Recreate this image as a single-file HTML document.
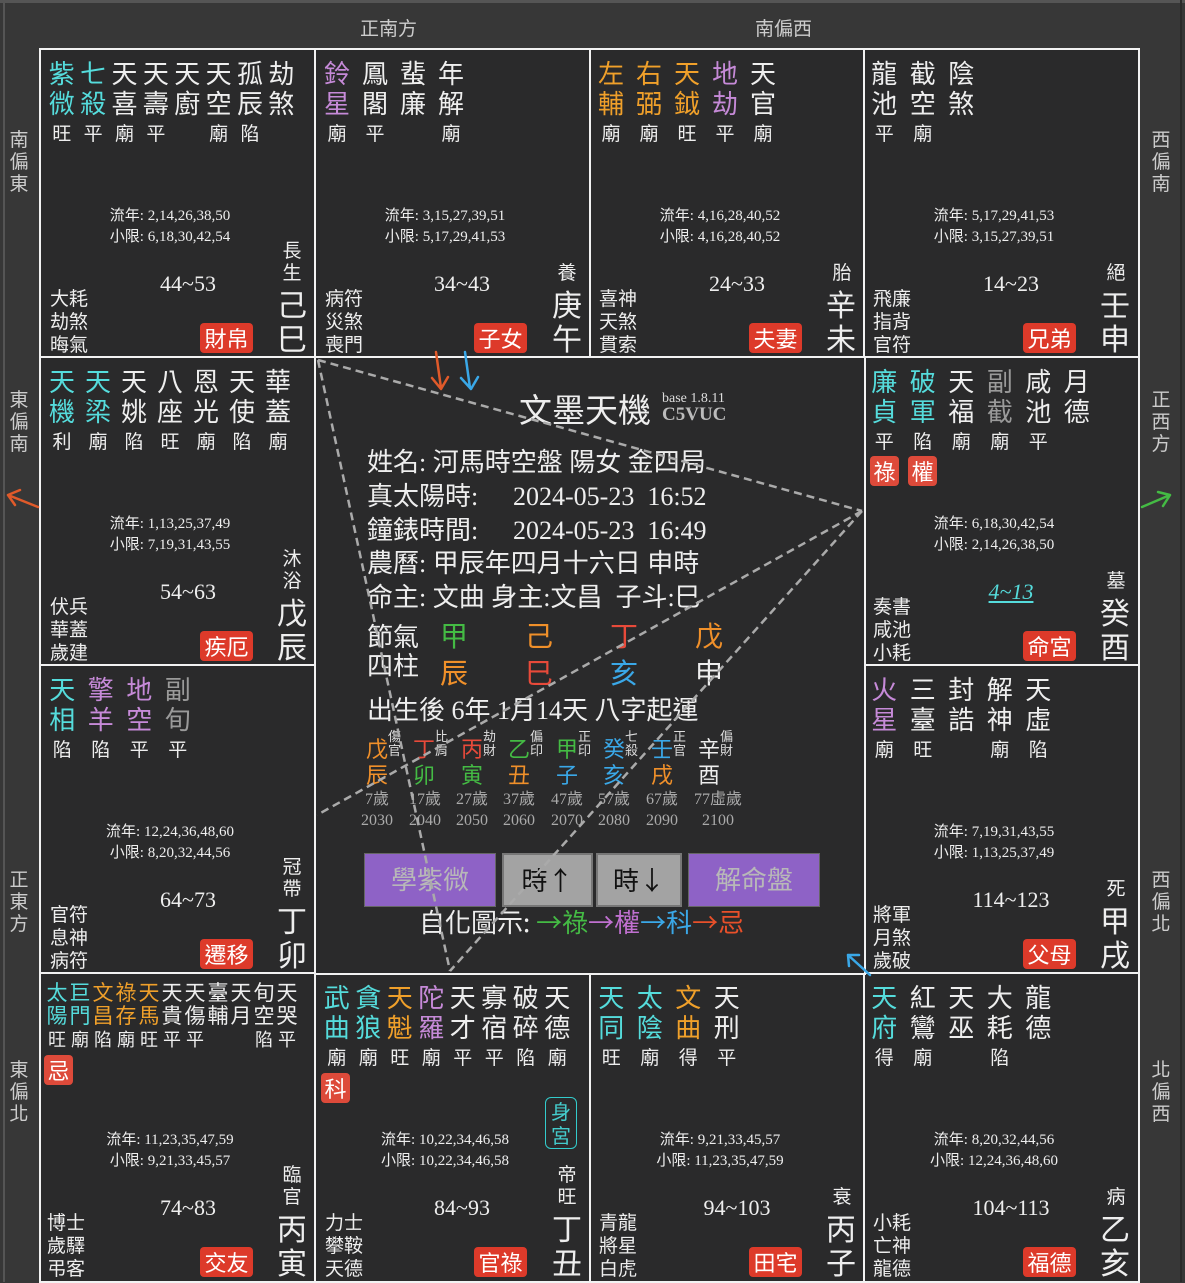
<!DOCTYPE html>
<html><head><meta charset="utf-8">
<style>
*{margin:0;padding:0;box-sizing:border-box}
body{width:1185px;height:1282px;background:#373737;position:relative;overflow:hidden;font-family:"Liberation Serif","Noto Sans CJK TC",sans-serif;color:#eee}
.a{position:absolute;white-space:nowrap}
.cell{position:absolute;background:#2a2a2b;border:2px solid #f2f2f2}
.st{position:absolute;display:flex;font-family:"Noto Sans CJK TC",sans-serif}
.st i{font-style:normal;display:block;text-align:center;font-size:26px;line-height:30px;color:#eee}
.st i b{display:block;font-weight:normal;font-size:19px;line-height:29px;color:#eee}
.sm i{font-size:21px;line-height:23px}
.sm i b{font-size:18px;line-height:25px}
.c{color:#55dcdc!important}.o{color:#f0a02a!important}.p{color:#c68ad8!important}.g{color:#9a9a9a!important}
.ly{position:absolute;width:200px;text-align:center;font-size:15px;line-height:21px;color:#eee}
.dec{position:absolute;width:120px;text-align:center;font-size:22px;line-height:26px}
.gods{position:absolute;font-size:19px;line-height:23px;font-family:"Noto Sans CJK TC",sans-serif}
.bd{position:absolute;width:53px;height:30px;background:#dd3a2a;border-radius:4px;text-align:center;font-size:22px;line-height:30px;font-family:"Noto Sans CJK TC",sans-serif;color:#fff}
.bs{position:absolute;width:29px;height:30px;background:#dd4a3a;border-radius:4px;text-align:center;font-size:22px;line-height:30px;font-family:"Noto Sans CJK TC",sans-serif;color:#fff}
.cs{position:absolute;width:30px;text-align:center;font-size:19px;line-height:22px;font-family:"Noto Sans CJK TC",sans-serif}
.gz{position:absolute;width:40px;text-align:center;font-size:30px;line-height:34px;font-family:"Noto Sans CJK TC",sans-serif}
.dir{position:absolute;width:24px;text-align:center;font-size:19px;line-height:22px;color:#ccc;font-family:"Noto Sans CJK TC",sans-serif}
.ln{position:absolute;left:367px;font-size:26px;line-height:34px;white-space:nowrap}
.col{position:absolute;width:47px;text-align:left}
.col .s{font-size:22px;line-height:26px;font-family:"Noto Sans CJK TC",sans-serif;display:inline-block;vertical-align:top}
.col .t{font-size:13px;line-height:14px;display:inline-block;vertical-align:top;color:#ddd;font-family:"Noto Sans CJK TC",sans-serif;margin-top:-6px}
.col .b{font-size:22px;line-height:26px;font-family:"Noto Sans CJK TC",sans-serif;display:block}
.yr{position:absolute;font-size:16px;line-height:21px;color:#aaa;width:60px;text-align:center}
.btn{position:absolute;top:853px;height:54px;text-align:center;font-size:26px;line-height:50px;font-family:"Noto Sans CJK TC",sans-serif}
.gr{color:#44bb44}.or{color:#f0902a}.rd{color:#e84a3a}.bl{color:#3aa8e8}
</style></head><body>
<div class="a" style="left:0;top:0;width:1185px;height:3px;background:#555"></div>
<div class="a" style="left:3px;top:0;width:2px;height:1282px;background:#555"></div>
<div class="a" style="left:1180px;top:0;width:2px;height:1282px;background:#2a2a2a"></div>

<div class="a" style="left:360px;top:14px;font-size:19px;color:#ccc;font-family:'Noto Sans CJK TC',sans-serif">正南方</div>
<div class="a" style="left:755px;top:14px;font-size:19px;color:#ccc;font-family:'Noto Sans CJK TC',sans-serif">南偏西</div>
<div class="dir" style="left:7px;top:128px">南<br>偏<br>東</div>
<div class="dir" style="left:7px;top:388px">東<br>偏<br>南</div>
<div class="dir" style="left:7px;top:868px">正<br>東<br>方</div>
<div class="dir" style="left:7px;top:1058px">東<br>偏<br>北</div>
<div class="dir" style="left:1149px;top:128px">西<br>偏<br>南</div>
<div class="dir" style="left:1149px;top:388px">正<br>西<br>方</div>
<div class="dir" style="left:1149px;top:868px">西<br>偏<br>北</div>
<div class="dir" style="left:1149px;top:1058px">北<br>偏<br>西</div>

<!-- cells -->
<div class="cell" style="left:39px;top:48px;width:278px;height:311px"></div>
<div class="cell" style="left:314px;top:48px;width:278px;height:311px"></div>
<div class="cell" style="left:589px;top:48px;width:277px;height:311px"></div>
<div class="cell" style="left:863px;top:48px;width:277px;height:311px"></div>
<div class="cell" style="left:39px;top:356px;width:278px;height:311px"></div>
<div class="cell" style="left:863px;top:356px;width:277px;height:311px"></div>
<div class="cell" style="left:39px;top:664px;width:278px;height:311px"></div>
<div class="cell" style="left:863px;top:664px;width:277px;height:311px"></div>
<div class="cell" style="left:39px;top:972px;width:278px;height:311px"></div>
<div class="cell" style="left:314px;top:972px;width:278px;height:311px"></div>
<div class="cell" style="left:589px;top:972px;width:277px;height:311px"></div>
<div class="cell" style="left:863px;top:972px;width:277px;height:311px"></div>
<div class="cell" style="left:314px;top:356px;width:552px;height:619px"></div>

<!-- Row 0 -->
<div class="st" style="left:46px;top:58px"><i class="c" style="width:31.4px">紫<br>微<b>旺</b></i><i class="c" style="width:31.4px">七<br>殺<b>平</b></i><i style="width:31.4px">天<br>喜<b>廟</b></i><i style="width:31.4px">天<br>壽<b>平</b></i><i style="width:31.4px">天<br>廚<b>&nbsp;</b></i><i style="width:31.4px">天<br>空<b>廟</b></i><i style="width:31.4px">孤<br>辰<b>陷</b></i><i style="width:31.4px">劫<br>煞<b>&nbsp;</b></i></div>
<div class="ly" style="left:70px;top:206px">流年: 2,14,26,38,50<br>小限: 6,18,30,42,54</div>
<div class="dec" style="left:128px;top:271px">44~53</div>
<div class="gods" style="left:50px;top:286px">大耗<br>劫煞<br>晦氣</div>
<div class="bd" style="left:200px;top:323px">財帛</div>
<div class="cs" style="left:277px;top:239px">長<br>生</div>
<div class="gz" style="left:272px;top:286px">己<br>巳</div>

<div class="st" style="left:318px;top:58px"><i class="p" style="width:38px">鈴<br>星<b>廟</b></i><i style="width:38px">鳳<br>閣<b>平</b></i><i style="width:38px">蜚<br>廉<b>&nbsp;</b></i><i style="width:38px">年<br>解<b>廟</b></i></div>
<div class="ly" style="left:345px;top:206px">流年: 3,15,27,39,51<br>小限: 5,17,29,41,53</div>
<div class="dec" style="left:402px;top:271px">34~43</div>
<div class="gods" style="left:325px;top:286px">病符<br>災煞<br>喪門</div>
<div class="bd" style="left:474px;top:323px">子女</div>
<div class="cs" style="left:552px;top:261px">養</div>
<div class="gz" style="left:547px;top:286px">庚<br>午</div>

<div class="st" style="left:592px;top:58px"><i class="o" style="width:38px">左<br>輔<b>廟</b></i><i class="o" style="width:38px">右<br>弼<b>廟</b></i><i class="o" style="width:38px">天<br>鉞<b>旺</b></i><i class="p" style="width:38px">地<br>劫<b>平</b></i><i style="width:38px">天<br>官<b>廟</b></i></div>
<div class="ly" style="left:620px;top:206px">流年: 4,16,28,40,52<br>小限: 4,16,28,40,52</div>
<div class="dec" style="left:677px;top:271px">24~33</div>
<div class="gods" style="left:599px;top:286px">喜神<br>天煞<br>貫索</div>
<div class="bd" style="left:749px;top:323px">夫妻</div>
<div class="cs" style="left:827px;top:261px">胎</div>
<div class="gz" style="left:821px;top:286px">辛<br>未</div>

<div class="st" style="left:865px;top:58px"><i style="width:38.5px">龍<br>池<b>平</b></i><i style="width:38.5px">截<br>空<b>廟</b></i><i style="width:38.5px">陰<br>煞<b>&nbsp;</b></i></div>
<div class="ly" style="left:894px;top:206px">流年: 5,17,29,41,53<br>小限: 3,15,27,39,51</div>
<div class="dec" style="left:951px;top:271px">14~23</div>
<div class="gods" style="left:873px;top:286px">飛廉<br>指背<br>官符</div>
<div class="bd" style="left:1023px;top:323px">兄弟</div>
<div class="cs" style="left:1101px;top:261px">絕</div>
<div class="gz" style="left:1095px;top:286px">壬<br>申</div>

<!-- Row 1 -->
<div class="st" style="left:44px;top:366px"><i class="c" style="width:36px">天<br>機<b>利</b></i><i class="c" style="width:36px">天<br>梁<b>廟</b></i><i style="width:36px">天<br>姚<b>陷</b></i><i style="width:36px">八<br>座<b>旺</b></i><i style="width:36px">恩<br>光<b>廟</b></i><i style="width:36px">天<br>使<b>陷</b></i><i style="width:36px">華<br>蓋<b>廟</b></i></div>
<div class="ly" style="left:70px;top:514px">流年: 1,13,25,37,49<br>小限: 7,19,31,43,55</div>
<div class="dec" style="left:128px;top:579px">54~63</div>
<div class="gods" style="left:50px;top:594px">伏兵<br>華蓋<br>歲建</div>
<div class="bd" style="left:200px;top:631px">疾厄</div>
<div class="cs" style="left:277px;top:547px">沐<br>浴</div>
<div class="gz" style="left:272px;top:594px">戊<br>辰</div>

<div class="st" style="left:865px;top:366px"><i class="c" style="width:38.5px">廉<br>貞<b>平</b></i><i class="c" style="width:38.5px">破<br>軍<b>陷</b></i><i style="width:38.5px">天<br>福<b>廟</b></i><i class="g" style="width:38.5px">副<br>截<b>廟</b></i><i style="width:38.5px">咸<br>池<b>平</b></i><i style="width:38.5px">月<br>德<b>&nbsp;</b></i></div>
<div class="bs" style="left:870px;top:456px">祿</div>
<div class="bs" style="left:908px;top:456px">權</div>
<div class="ly" style="left:894px;top:514px">流年: 6,18,30,42,54<br>小限: 2,14,26,38,50</div>
<div class="dec" style="left:951px;top:579px;color:#55dcdc;font-style:italic"><span style="text-decoration:underline">4~13</span></div>
<div class="gods" style="left:873px;top:594px">奏書<br>咸池<br>小耗</div>
<div class="bd" style="left:1023px;top:631px">命宮</div>
<div class="cs" style="left:1101px;top:569px">墓</div>
<div class="gz" style="left:1095px;top:594px">癸<br>酉</div>

<!-- Row 2 -->
<div class="st" style="left:43px;top:674px"><i class="c" style="width:38.5px">天<br>相<b>陷</b></i><i class="p" style="width:38.5px">擎<br>羊<b>陷</b></i><i class="p" style="width:38.5px">地<br>空<b>平</b></i><i class="g" style="width:38.5px">副<br>旬<b>平</b></i></div>
<div class="ly" style="left:70px;top:822px">流年: 12,24,36,48,60<br>小限: 8,20,32,44,56</div>
<div class="dec" style="left:128px;top:887px">64~73</div>
<div class="gods" style="left:50px;top:902px">官符<br>息神<br>病符</div>
<div class="bd" style="left:200px;top:939px">遷移</div>
<div class="cs" style="left:277px;top:855px">冠<br>帶</div>
<div class="gz" style="left:272px;top:902px">丁<br>卯</div>

<div class="st" style="left:865px;top:674px"><i class="p" style="width:38.5px">火<br>星<b>廟</b></i><i style="width:38.5px">三<br>臺<b>旺</b></i><i style="width:38.5px">封<br>誥<b>&nbsp;</b></i><i style="width:38.5px">解<br>神<b>廟</b></i><i style="width:38.5px">天<br>虛<b>陷</b></i></div>
<div class="ly" style="left:894px;top:822px">流年: 7,19,31,43,55<br>小限: 1,13,25,37,49</div>
<div class="dec" style="left:951px;top:887px">114~123</div>
<div class="gods" style="left:873px;top:902px">將軍<br>月煞<br>歲破</div>
<div class="bd" style="left:1023px;top:939px">父母</div>
<div class="cs" style="left:1101px;top:877px">死</div>
<div class="gz" style="left:1095px;top:902px">甲<br>戌</div>

<!-- Row 3 -->
<div class="st sm" style="left:45.5px;top:981px"><i class="c" style="width:23px">太<br>陽<b>旺</b></i><i class="c" style="width:23px">巨<br>門<b>廟</b></i><i class="o" style="width:23px">文<br>昌<b>陷</b></i><i class="o" style="width:23px">祿<br>存<b>廟</b></i><i class="o" style="width:23px">天<br>馬<b>旺</b></i><i style="width:23px">天<br>貴<b>平</b></i><i style="width:23px">天<br>傷<b>平</b></i><i style="width:23px">臺<br>輔<b>&nbsp;</b></i><i style="width:23px">天<br>月<b>&nbsp;</b></i><i style="width:23px">旬<br>空<b>陷</b></i><i style="width:23px">天<br>哭<b>平</b></i></div>
<div class="bs" style="left:44px;top:1055px">忌</div>
<div class="ly" style="left:70px;top:1130px">流年: 11,23,35,47,59<br>小限: 9,21,33,45,57</div>
<div class="dec" style="left:128px;top:1195px">74~83</div>
<div class="gods" style="left:47px;top:1210px">博士<br>歲驛<br>弔客</div>
<div class="bd" style="left:200px;top:1247px">交友</div>
<div class="cs" style="left:277px;top:1163px">臨<br>官</div>
<div class="gz" style="left:272px;top:1210px">丙<br>寅</div>

<div class="st" style="left:321px;top:982px"><i class="c" style="width:31.5px">武<br>曲<b>廟</b></i><i class="c" style="width:31.5px">貪<br>狼<b>廟</b></i><i class="o" style="width:31.5px">天<br>魁<b>旺</b></i><i class="p" style="width:31.5px">陀<br>羅<b>廟</b></i><i style="width:31.5px">天<br>才<b>平</b></i><i style="width:31.5px">寡<br>宿<b>平</b></i><i style="width:31.5px">破<br>碎<b>陷</b></i><i style="width:31.5px">天<br>德<b>廟</b></i></div>
<div class="bs" style="left:321px;top:1073px">科</div>
<div class="a" style="left:545px;top:1097px;width:32px;height:52px;border:1px solid #3cc;border-radius:6px;color:#4cc;font-size:20px;line-height:24px;text-align:center;font-family:'Noto Sans CJK TC',sans-serif;padding-top:1px">身<br>宮</div>
<div class="ly" style="left:345px;top:1130px">流年: 10,22,34,46,58<br>小限: 10,22,34,46,58</div>
<div class="dec" style="left:402px;top:1195px">84~93</div>
<div class="gods" style="left:325px;top:1210px">力士<br>攀鞍<br>天德</div>
<div class="bd" style="left:474px;top:1247px">官祿</div>
<div class="cs" style="left:552px;top:1163px">帝<br>旺</div>
<div class="gz" style="left:547px;top:1210px">丁<br>丑</div>

<div class="st" style="left:592px;top:982px"><i class="c" style="width:38.5px">天<br>同<b>旺</b></i><i class="c" style="width:38.5px">太<br>陰<b>廟</b></i><i class="o" style="width:38.5px">文<br>曲<b>得</b></i><i style="width:38.5px">天<br>刑<b>平</b></i></div>
<div class="ly" style="left:620px;top:1130px">流年: 9,21,33,45,57<br>小限: 11,23,35,47,59</div>
<div class="dec" style="left:677px;top:1195px">94~103</div>
<div class="gods" style="left:599px;top:1210px">青龍<br>將星<br>白虎</div>
<div class="bd" style="left:749px;top:1247px">田宅</div>
<div class="cs" style="left:827px;top:1185px">衰</div>
<div class="gz" style="left:821px;top:1210px">丙<br>子</div>

<div class="st" style="left:865px;top:982px"><i class="c" style="width:38.5px">天<br>府<b>得</b></i><i style="width:38.5px">紅<br>鸞<b>廟</b></i><i style="width:38.5px">天<br>巫<b>&nbsp;</b></i><i style="width:38.5px">大<br>耗<b>陷</b></i><i style="width:38.5px">龍<br>德<b>&nbsp;</b></i></div>
<div class="ly" style="left:894px;top:1130px">流年: 8,20,32,44,56<br>小限: 12,24,36,48,60</div>
<div class="dec" style="left:951px;top:1195px">104~113</div>
<div class="gods" style="left:873px;top:1210px">小耗<br>亡神<br>龍德</div>
<div class="bd" style="left:1023px;top:1247px">福德</div>
<div class="cs" style="left:1101px;top:1185px">病</div>
<div class="gz" style="left:1095px;top:1210px">乙<br>亥</div>

<!-- Center -->
<div class="a" style="left:519px;top:387px;font-size:33px;line-height:42px;font-family:'Noto Sans CJK TC',sans-serif">文墨天機</div>
<div class="a" style="left:662px;top:391px;font-size:14px;line-height:15px;color:#ddd">base 1.8.11</div>
<div class="a" style="left:662px;top:405px;font-size:19px;line-height:20px;color:#bbb;font-weight:bold">C5VUC</div>

<div class="ln" style="top:446px">姓名: 河馬時空盤 陽女 金四局</div>
<div class="ln" style="top:480px">真太陽時:<span class="a" style="left:146px">2024-05-23&nbsp;&nbsp;16:52</span></div>
<div class="ln" style="top:514px">鐘錶時間:<span class="a" style="left:146px">2024-05-23&nbsp;&nbsp;16:49</span></div>
<div class="ln" style="top:547px">農曆: 甲辰年四月十六日 申時</div>
<div class="ln" style="top:581px">命主: 文曲 身主:文昌&nbsp; 子斗:巳</div>
<div class="ln" style="top:621px">節氣</div>
<div class="ln" style="top:650px">四柱</div>
<div class="a gr" style="left:440px;top:621px;font-size:28px;line-height:34px">甲</div>
<div class="a or" style="left:525px;top:621px;font-size:28px;line-height:34px">己</div>
<div class="a rd" style="left:610px;top:621px;font-size:28px;line-height:34px">丁</div>
<div class="a or" style="left:695px;top:621px;font-size:28px;line-height:34px">戊</div>
<div class="a or" style="left:440px;top:658px;font-size:28px;line-height:34px">辰</div>
<div class="a rd" style="left:525px;top:658px;font-size:28px;line-height:34px">巳</div>
<div class="a bl" style="left:610px;top:658px;font-size:28px;line-height:34px">亥</div>
<div class="a" style="left:695px;top:658px;font-size:28px;line-height:34px">申</div>
<div class="ln" style="top:694px">出生後 6年 1月14天 八字起運</div>

<div class="col" style="left:366px;top:735px"><span class="s or">戊</span><span class="t">傷<br>官</span><span class="b or">辰</span></div>
<div class="col" style="left:413px;top:735px"><span class="s rd">丁</span><span class="t">比<br>肩</span><span class="b gr">卯</span></div>
<div class="col" style="left:461px;top:735px"><span class="s rd">丙</span><span class="t">劫<br>財</span><span class="b gr">寅</span></div>
<div class="col" style="left:508px;top:735px"><span class="s gr">乙</span><span class="t">偏<br>印</span><span class="b or">丑</span></div>
<div class="col" style="left:556px;top:735px"><span class="s gr">甲</span><span class="t">正<br>印</span><span class="b bl">子</span></div>
<div class="col" style="left:603px;top:735px"><span class="s bl">癸</span><span class="t">七<br>殺</span><span class="b bl">亥</span></div>
<div class="col" style="left:651px;top:735px"><span class="s bl">壬</span><span class="t">正<br>官</span><span class="b or">戌</span></div>
<div class="col" style="left:698px;top:735px"><span class="s">辛</span><span class="t">偏<br>財</span><span class="b">酉</span></div>

<div class="yr" style="left:347px;top:789px">7歲<br>2030</div>
<div class="yr" style="left:395px;top:789px">17歲<br>2040</div>
<div class="yr" style="left:442px;top:789px">27歲<br>2050</div>
<div class="yr" style="left:489px;top:789px">37歲<br>2060</div>
<div class="yr" style="left:537px;top:789px">47歲<br>2070</div>
<div class="yr" style="left:584px;top:789px">57歲<br>2080</div>
<div class="yr" style="left:632px;top:789px">67歲<br>2090</div>
<div class="yr" style="left:688px;top:789px">77虛歲<br>2100</div>

<div class="btn" style="left:364px;width:132px;background:#8e62c6;border:1px solid #666;color:#b8b8b8">學紫微</div>
<div class="btn" style="left:502px;width:91px;background:#a3a3a3;border:2px solid #777;color:#111">時↑</div>
<div class="btn" style="left:596px;width:86px;background:#a3a3a3;border:2px solid #777;color:#111">時↓</div>
<div class="btn" style="left:688px;width:132px;background:#8e62c6;border:1px solid #666;color:#b8b8b8">解命盤</div>
<div class="a" style="left:419px;top:905px;font-size:26px;line-height:34px;font-family:'Noto Sans CJK TC',sans-serif">自化圖示: <span style="color:#44bb44">→祿</span><span style="color:#c070d0">→權</span><span style="color:#3aa8e8">→科</span><span style="color:#e8502a">→忌</span></div>

<svg class="a" style="left:0;top:0" width="1185" height="1282" viewBox="0 0 1185 1282">
<g stroke="#aaa" stroke-width="2.5" stroke-dasharray="8,5" fill="none">
<line x1="318" y1="360" x2="862" y2="511"/>
<line x1="318" y1="360" x2="450" y2="971"/>
<line x1="862" y1="511" x2="450" y2="971"/>
<line x1="862" y1="511" x2="317" y2="815"/>
</g>
<g fill="none" stroke-width="2.5" stroke-linecap="round" stroke-linejoin="round">
<path d="M436 352 L441 388 M432 378 L441 389 L448 377" stroke="#e05a2a"/>
<path d="M465 352 L470 388 M461 378 L471 389 L478 377" stroke="#3aa8e8"/>
<path d="M38 507 L8 495 M15 505 L8 495 L20 490" stroke="#e05a2a"/>
<path d="M1142 507 L1170 495 M1158 492 L1170 495 L1163 506" stroke="#44bb44"/>
<path d="M870 975 L848 955 M849 966 L848 955 L859 955" stroke="#3aa8e8"/>
</g>
</svg>
</body></html>
